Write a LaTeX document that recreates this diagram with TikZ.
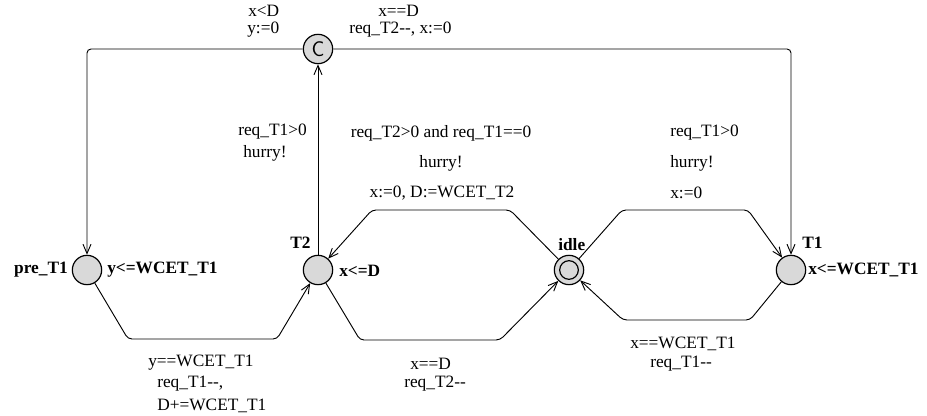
\documentclass[tikz,border=0pt]{standalone}
\usepackage{fontspec}
\setmainfont{Liberation Serif}
\usetikzlibrary{positioning,arrows.meta}
\newcommand*{\lb}{\fontsize{13}{15}\selectfont}

\begin{document}
\begin{tikzpicture}[x=0.75pt,y=-0.75pt,
  loc/.style={circle,draw,line width=0.9pt,fill=gray!30,minimum size=22pt,inner sep=0pt},
  trans/.style={line width=0.7pt,rounded corners=3pt,-{Straight Barb[length=7pt,width=6pt]}},
  lbl/.style={inner sep=0pt,anchor=west,font=\lb},
  locname/.style={lbl,font=\lb\bfseries}]
\useasboundingbox (0,0) rectangle (927,416);
% Locations
\node[loc] (C) at (318,49) {\sffamily\fontsize{16}{16}\selectfont C};
\node[loc] (pre) at (87,270) {};
\node[loc] (T2) at (318,270) {};
\node[loc] (idle) at (569,270) {};
\draw[line width=0.9pt] (idle.center) circle[radius=7pt];
\node[loc] (T1) at (791,270) {};
% Names and invariants
\node[locname,anchor=east] (npre) at (68,270) {pre\_T1};
\node[locname] (ipre) at (107,270) {y<=WCET\_T1};
\node[locname] (nT2) at (290,243) {T2};
\node[locname] (iT2) at (339,271) {x<=D};
\node[locname] (nidle) at (558,245) {idle};
\node[locname] (nT1) at (802,243) {T1};
\node[locname] (iT1) at (808,270) {x<=WCET\_T1};
% Nails
\coordinate (cl) at (87,49);
\coordinate (cr) at (791,49);
\coordinate (pa) at (128,339);
\coordinate (pb) at (277,339);
\coordinate (ta) at (360,340);
\coordinate (tb) at (500,340);
\coordinate (ua) at (510,210);
\coordinate (ub) at (372,210);
\coordinate (va) at (622,210);
\coordinate (vb) at (748,210);
\coordinate (wa) at (750,320);
\coordinate (wb) at (623,320);
% Transitions
\draw[trans] (C) -- (cl) -- (pre);
\draw[trans] (C) -- (cr) -- (T1);
\draw[trans] (T2) -- (C);
\draw[trans] (pre) -- (pa) -- (pb) -- (T2);
\draw[trans] (T2) -- (ta) -- (tb) -- (idle);
\draw[trans] (idle) -- (ua) -- (ub) -- (T2);
\draw[trans] (idle) -- (va) -- (vb) -- (T1);
\draw[trans] (T1) -- (wa) -- (wb) -- (idle);
% Guards, syncs and updates
\node[lbl] (g1) at (248,11) {x<D};
\node[lbl] (u1) at (247,30) {y:=0};
\node[lbl] (g2) at (378,11) {x==D};
\node[lbl] (u2) at (349,30) {req\_T2-{}-, x:=0};
\node[lbl] (g3) at (238,132) {req\_T1>0};
\node[lbl] (s3) at (243,153) {hurry!};
\node[lbl,anchor=center] (g4) at (441,133) {req\_T2>0 and req\_T1==0};
\node[lbl,anchor=center] (s4) at (441,163) {hurry!};
\node[lbl,anchor=center] (u4) at (442,193) {x:=0, D:=WCET\_T2};
\node[lbl] (g5) at (670,133) {req\_T1>0};
\node[lbl] (s5) at (670,163) {hurry!};
\node[lbl] (u5) at (670,193) {x:=0};
\node[lbl] (g6) at (148,363) {y==WCET\_T1};
\node[lbl] (u6) at (157,384) {req\_T1-{}-,};
\node[lbl] (v6) at (157,406) {D+=WCET\_T1};
\node[lbl] (g7) at (410,364) {x==D};
\node[lbl] (u7) at (404,384) {req\_T2-{}-};
\node[lbl] (g8) at (630,344) {x==WCET\_T1};
\node[lbl] (u8) at (650,364) {req\_T1-{}-};
\end{tikzpicture}
\end{document}
